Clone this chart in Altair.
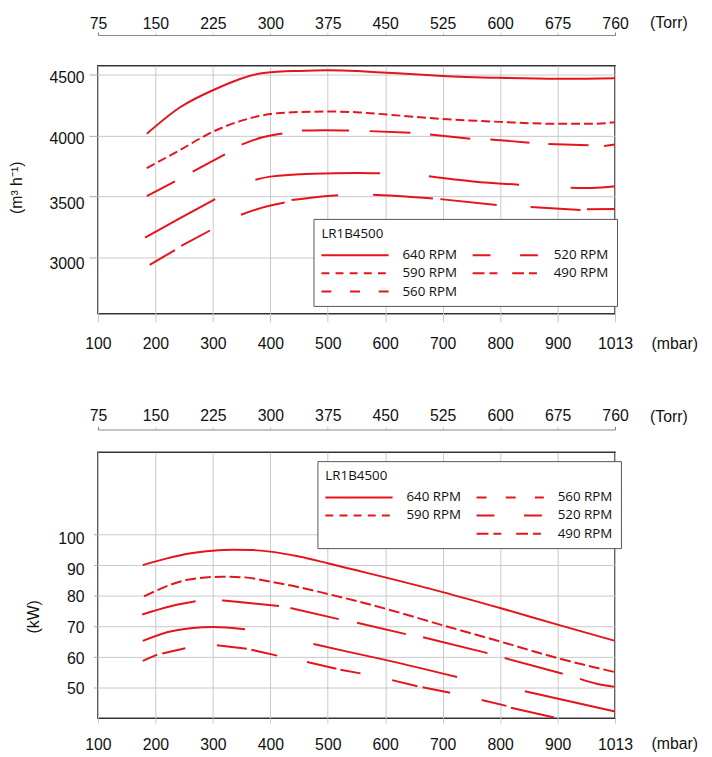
import altair as alt
import pandas as pd

RED = "#e5141c"
GRID = "#c8c8c8"
AXF = "Liberation Sans, Arial, sans-serif"
LEGF = "Open Sans, sans-serif"

# ---------------- shared axis values ----------------
mbar_ticks = [100, 200, 300, 400, 500, 600, 700, 800, 900, 1000]

# ---------------- top chart: flow (m3/h) ----------------
t640_x = [185, 243, 300, 392, 450, 500, 550, 585, 650, 700, 800, 900, 950, 1000]
t640_y = [4013, 4231, 4371, 4515, 4530, 4535, 4530, 4519, 4503, 4489, 4473, 4465, 4466, 4470]

t590_x = [185, 243, 300, 346, 400, 450, 500, 550, 585, 700, 800, 900, 962, 1000]
t590_y = [3731, 3880, 4030, 4115, 4175, 4192, 4196, 4190, 4178, 4135, 4111, 4095, 4095, 4108]

t560_x = [185, 234, 265, 321, 350, 386, 421, 455, 496, 537, 573, 644, 678, 748, 783, 851, 884, 954, 981, 1000]
t560_y = [3500, 3621, 3702, 3844, 3924, 3984, 4016, 4040, 4042, 4040, 4035, 4022, 4008, 3973, 3967, 3940, 3930, 3919, 3912, 3925]
t560_s = [1, 1, 2, 2, 3, 3, 3, 4, 4, 4, 5, 5, 6, 6, 7, 7, 8, 8, 9, 9]

t520_x = [182, 243, 304, 374, 400, 474, 551, 591, 676, 753, 833, 923, 960, 1000]
t520_y = [3159, 3320, 3476, 3635, 3661, 3685, 3691, 3689, 3664, 3621, 3594, 3570, 3567, 3581]
t520_s = [1, 1, 1, 2, 2, 2, 2, 2, 3, 3, 3, 4, 4, 4]

t490_x = [190, 234, 245, 295, 349, 386, 425, 437, 478, 518, 579, 630, 683, 696, 794, 853, 940, 951, 1000]
t490_y = [2936, 3057, 3092, 3218, 3347, 3406, 3449, 3468, 3492, 3508, 3512, 3500, 3481, 3476, 3427, 3411, 3387, 3392, 3395]
t490_s = [1, 1, 2, 2, 3, 3, 3, 4, 4, 4, 5, 5, 5, 6, 6, 7, 7, 8, 8]

top_ydomain = [2533, 4573]
top_yticks = [3000, 3500, 4000, 4500]

# ---------------- bottom chart: power (kW) ----------------
b640_x = [178, 220, 259, 300, 334, 370, 400, 450, 500, 550, 600, 700, 800, 900, 1000]
b640_y = [90, 92.2, 93.8, 94.7, 95, 94.9, 94.4, 92.8, 90.6, 88.3, 86, 81.2, 76, 70.6, 65.3]

b590_x = [180, 259, 316, 356, 400, 450, 500, 550, 600, 700, 800, 900, 1000]
b590_y = [79.8, 85.3, 86.2, 86.0, 84.6, 82.8, 80.6, 78.3, 75.8, 70.4, 65.1, 59.7, 55.1]

b560_x = [177, 225, 270, 316, 350, 415, 435, 519, 551, 636, 666, 778, 808, 909, 939, 968, 1000]
b560_y = [73.9, 76.5, 78.2, 78.5, 77.9, 76.7, 76.0, 72.4, 71.2, 67.5, 66.5, 61.3, 59.7, 54.6, 52.9, 51.3, 50.3]
b560_s = [1, 1, 1, 2, 2, 2, 3, 3, 4, 4, 5, 5, 6, 6, 7, 7, 7]

b520_x = [178, 230, 300, 356, 475, 534, 600, 725, 843, 1000]
b520_y = [65.3, 68.5, 69.8, 69.1, 64.3, 61.8, 59.1, 53.5, 48.9, 42.3]
b520_s = [1, 1, 1, 1, 2, 2, 2, 2, 3, 3]

b490_x = [178, 203, 212, 252, 307, 359, 367, 412, 464, 515, 522, 557, 612, 656, 665, 713, 768, 811, 819, 894]
b490_y = [58.8, 60.8, 61.2, 62.9, 63.9, 62.7, 62.4, 60.5, 58.4, 56.2, 55.9, 54.7, 52.5, 50.5, 50.2, 48.4, 46.0, 44.1, 43.5, 40.3]
b490_s = [1, 1, 2, 2, 3, 3, 4, 4, 5, 5, 6, 6, 7, 7, 8, 8, 9, 9, 10, 10]

bot_ydomain = [40.1, 126.8]
bot_yticks = [50, 60, 70, 80, 90, 100]

# legend entries (column-major, 3 rows x 2 columns) and their dash patterns
top_leg_order = ["640 RPM", "590 RPM", "560 RPM", "520 RPM", "490 RPM"]
top_leg_dash = [[1, 0], [8, 6.3], [10, 19], [18, 30], [12, 5, 8, 15]]
bot_leg_order = ["640 RPM", "590 RPM", " ", "560 RPM", "520 RPM", "490 RPM"]
bot_leg_dash = [[1, 0], [8, 6.3], [0, 1000], [10, 19.5], [18, 30], [12, 5, 8, 15]]


def frame(name, xs, ys, segs=None):
    if segs is None:
        segs = [0] * len(xs)
    return pd.DataFrame({"mbar": xs, "val": ys,
                         "seg": [f"{name}-{s}" for s in segs]})


def panel(solid_df, dash_df, dash590, ydomain, yticks, ytitle, ytitle_x, ytitle_y,
          ytick_size, ylab_pad, ylab_off, xtick_size, xlab_pad, xtitle_y,
          torr_offset, torr_pad, leg_order, leg_dash, leg_x, leg_y, w, h):
    xs = alt.Scale(domain=[100, 1000], nice=False, zero=False)
    ys = alt.Scale(domain=ydomain, nice=False, zero=False)
    yaxis = alt.Axis(values=yticks, format="d", grid=True, gridColor=GRID, domain=False,
                     tickColor="#aaaaaa", tickSize=ytick_size, labelPadding=ylab_pad,
                     labelOffset=ylab_off, labelFont=AXF, labelFontSize=16,
                     labelColor="#111111", title=ytitle, titleFont=AXF,
                     titleFontSize=16, titleFontWeight="normal", titleColor="#111111",
                     titleX=ytitle_x, titleY=ytitle_y, titleAngle=270,
                     titleAlign="center", titleBaseline="middle")
    xaxis = alt.Axis(values=mbar_ticks, grid=True, gridColor=GRID, domain=False,
                     labelExpr="datum.value == 1000 ? '1013' : datum.label",
                     labelFlush=False, labelOverlap=False,
                     tickColor=GRID, tickSize=xtick_size, labelPadding=xlab_pad,
                     labelFont=AXF, labelFontSize=16, labelColor="#111111",
                     title="(mbar)", titleFont=AXF, titleFontSize=16,
                     titleFontWeight="normal", titleColor="#111111",
                     titleX=583, titleY=xtitle_y, titleAlign="center",
                     titleBaseline="middle")
    torr = alt.Axis(orient="top", values=mbar_ticks, grid=False, domain=True,
                    domainColor="#888888", offset=torr_offset,
                    labelExpr="datum.value == 1000 ? '760' : format(datum.value * 0.75, 'd')",
                    labelFlush=False, labelOverlap=False,
                    tickSize=3,
                    tickColor={"condition": {"test": "datum.value == 100 || datum.value == 1000",
                                             "value": "#777777"},
                               "value": "#cccccc"},
                    labelPadding=torr_pad, labelFont=AXF, labelFontSize=16,
                    labelColor="#111111", title="(Torr)", titleFont=AXF,
                    titleFontSize=16, titleFontWeight="normal", titleColor="#111111",
                    titleX=577, titleY=-13, titleAlign="center", titleBaseline="middle")

    solid = alt.Chart(solid_df).mark_line(color=RED, strokeWidth=2, clip=True,
                                          interpolate="monotone").encode(
        x=alt.X("mbar:Q", scale=xs, axis=xaxis),
        y=alt.Y("val:Q", scale=ys, axis=yaxis),
        detail="seg:N",
        order="mbar:Q",
    )
    dashed = alt.Chart(dash_df).mark_line(color=RED, strokeWidth=2, strokeDash=dash590,
                                          clip=True, interpolate="monotone").encode(
        x=alt.X("mbar:Q", scale=xs, axis=None),
        y=alt.Y("val:Q", scale=ys, axis=yaxis),
        order="mbar:Q",
    )
    mid = (ydomain[0] + ydomain[1]) / 2
    leg_df = pd.DataFrame({
        "series": [s for s in leg_order for _ in (0, 1)],
        "mbar": [-900, -800] * len(leg_order),
        "val": [mid] * (2 * len(leg_order)),
    })
    legend_layer = alt.Chart(leg_df).mark_line(color=RED, strokeWidth=2, clip=True).encode(
        x=alt.X("mbar:Q", scale=xs, axis=torr),
        y=alt.Y("val:Q", scale=ys, axis=yaxis),
        strokeDash=alt.StrokeDash(
            "series:N",
            scale=alt.Scale(domain=leg_order, range=leg_dash),
            legend=alt.Legend(
                title="LR1B4500", orient="none", legendX=leg_x, legendY=leg_y,
                columns=2, symbolType="M-5.6667,0H5.6667", symbolSize=144,
                symbolOffset=27, labelOffset=41, symbolStrokeWidth=2,
                symbolStrokeColor=RED, labelFont=LEGF, labelFontSize=13.5,
                labelColor="#111111", titleFont=LEGF, titleFontSize=13.5,
                titleFontWeight="normal", titleColor="#111111", padding=8,
                titlePadding=8, rowPadding=4.5, columnPadding=10,
                strokeColor="#555555", fillColor="white", labelLimit=200,
            ),
        ),
        detail="series:N",
    )
    return alt.layer(solid, dashed, legend_layer).resolve_axis(x="independent").properties(
        width=w, height=h)


top_solid = pd.concat([
    frame("640", t640_x, t640_y),
    frame("560", t560_x, t560_y, t560_s),
    frame("520", t520_x, t520_y, t520_s),
    frame("490", t490_x, t490_y, t490_s),
], ignore_index=True)
top_dash = frame("590", t590_x, t590_y)

bot_solid = pd.concat([
    frame("640", b640_x, b640_y),
    frame("560", b560_x, b560_y, b560_s),
    frame("520", b520_x, b520_y, b520_s),
    frame("490", b490_x, b490_y, b490_s),
], ignore_index=True)
bot_dash = frame("590", b590_x, b590_y)

top_lab_off = {"condition": {"test": "datum.value >= 4000", "value": 3}, "value": 7}
bot_lab_off = {"condition": {"test": "datum.value >= 90", "value": 4}, "value": 1}

top = panel(top_solid, top_dash, [9, 4], top_ydomain, top_yticks, "(m³ h⁻¹)",
            -82, 123, 9, 5, top_lab_off, 8, 14, 30, 31, 1,
            top_leg_order, top_leg_dash, 218, 155, 523, 251)
bottom = panel(bot_solid, bot_dash, [11, 4], bot_ydomain, bot_yticks, "(kW)",
               -65, 166, 4.5, 9.5, bot_lab_off, 5, 14, 26, 23, 3,
               bot_leg_order, bot_leg_dash, 222, 9, 523, 269)

chart = alt.vconcat(top, bottom, spacing=55).resolve_scale(
    strokeDash="independent"
).resolve_legend(
    strokeDash="independent"
).properties(
    padding={"left": 0, "top": 1, "right": 5, "bottom": 5}
).configure_view(stroke="#333333", strokeWidth=1.6)

chart.save("out.html", embed_options={"renderer": "svg", "actions": False})
